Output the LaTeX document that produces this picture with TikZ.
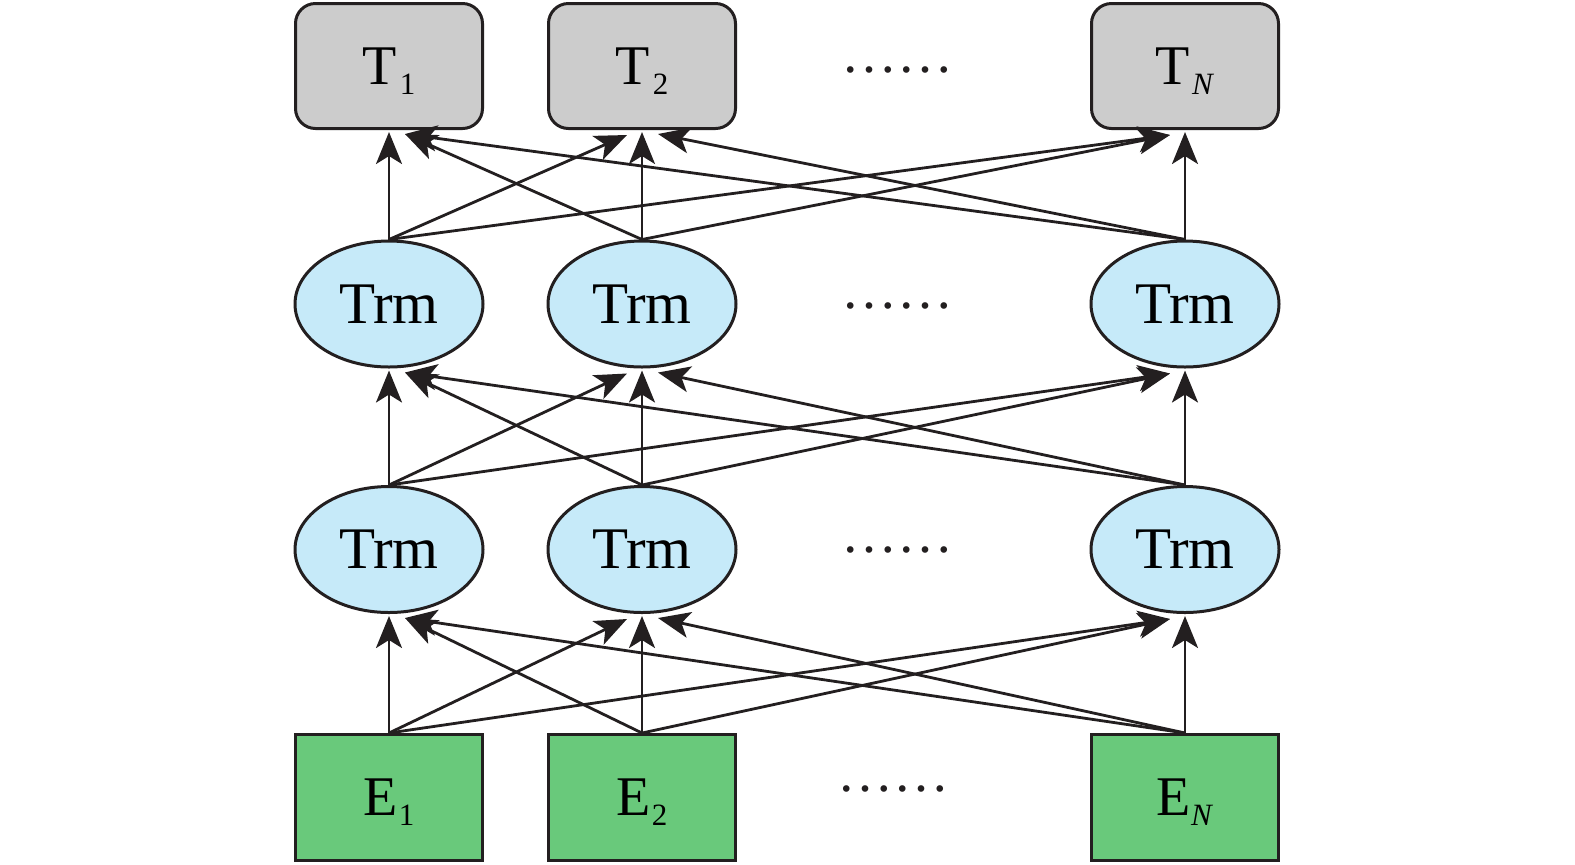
\documentclass[tikz,border=0pt]{standalone}
\usepackage{fontspec}
\setmainfont{Liberation Serif}
\usetikzlibrary{arrows.meta,shapes.geometric,calc}
\definecolor{bordc}{HTML}{231F20}
\definecolor{tgray}{HTML}{CCCCCC}
\definecolor{trmblue}{HTML}{C6EAF9}
\definecolor{egreen}{HTML}{69C97B}
\newcommand\mysub[1]{\raisebox{-5pt}[0pt][0pt]{\fontsize{15.5}{15.5}\selectfont #1}}
\begin{document}
\begin{tikzpicture}[x=0.5pt,y=-0.5pt,
  tbox/.style={draw=bordc, line width=1.5pt, fill=tgray, rounded corners=10pt,
    minimum width=93.5pt, minimum height=62.5pt, inner sep=0pt,
    font=\fontsize{28}{28}\selectfont},
  ebox/.style={draw=bordc, line width=1.5pt, fill=egreen,
    minimum width=93.5pt, minimum height=63pt, inner sep=0pt,
    font=\fontsize{28}{28}\selectfont},
  trm/.style={ellipse, draw=bordc, line width=1.5pt, fill=trmblue,
    minimum width=94pt, minimum height=63pt, inner sep=0pt,
    font=\fontsize{29.5}{29.5}\selectfont},
  dotsnode/.style={inner sep=0pt, text=bordc, font=\fontsize{28}{28}\selectfont},
  arr/.style={draw=bordc, line width=1.4pt, -{Stealth[length=16pt,width=13pt,inset=4pt]}},
]
\useasboundingbox (0,0) rectangle (1575,864);

\node[tbox] (t1) at (389,66) {\raisebox{-1pt}{T\kern1.5pt\mysub{1}}};
\node[tbox] (t2) at (642,66) {\raisebox{-1pt}{T\kern1.5pt\mysub{2}}};
\node[tbox] (tn) at (1185,66) {\raisebox{-1pt}{T\kern1pt\mysub{\textit{N}}}};

\node[trm] (a1) at (389,304) {Trm};
\node[trm] (a2) at (642,304) {Trm};
\node[trm] (an) at (1185,304) {Trm};

\node[trm] (b1) at (389,549.5) {Trm};
\node[trm] (b2) at (642,549.5) {Trm};
\node[trm] (bn) at (1185,549.5) {Trm};

\node[ebox] (e1) at (389,797.5) {E\kern0.5pt\mysub{1}};
\node[ebox] (e2) at (642,797.5) {E\kern0.5pt\mysub{2}};
\node[ebox] (en) at (1185,797.5) {E\mysub{\textit{N}}};

\node[dotsnode] (d1) at (897,70) {……};
\node[dotsnode] (d2) at (897,306) {……};
\node[dotsnode] (d3) at (897,550) {……};
\node[dotsnode] (d4) at (893,789) {……};

\foreach \n in {t1,t2,tn,a1,a2,an,b1,b2,bn} {
  \coordinate (\n-l) at ($(\n.south)+(-15,5)$);
  \coordinate (\n-r) at ($(\n.south)+(16,4)$);
  \coordinate (\n-c) at ($(\n.south)+(0,2)$);
}

\foreach \s/\t/\k in {e1/b1/c, e1/b2/l, e1/bn/l, e2/b1/r, e2/b2/c, e2/bn/l, en/b1/r, en/b2/r, en/bn/c,
                      b1/a1/c, b1/a2/l, b1/an/l, b2/a1/r, b2/a2/c, b2/an/l, bn/a1/r, bn/a2/r, bn/an/c,
                      a1/t1/c, a1/t2/l, a1/tn/l, a2/t1/r, a2/t2/c, a2/tn/l, an/t1/r, an/t2/r, an/tn/c}
  \draw[arr] (\s.north) -- (\t-\k);
\end{tikzpicture}
\end{document}
